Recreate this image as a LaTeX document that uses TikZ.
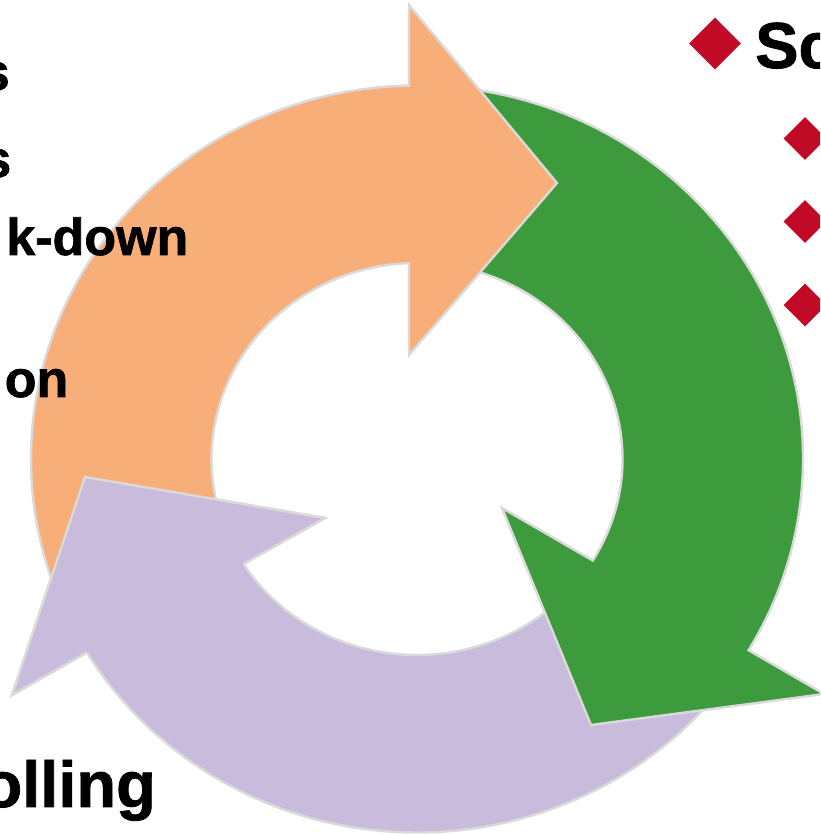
\documentclass[tikz,border=0pt]{standalone}
\usepackage{fontspec}
\setmainfont{Liberation Sans}[BoldFeatures={FakeBold=1.2}]
\usetikzlibrary{calc,shapes.geometric}

\definecolor{cycleorange}{HTML}{F8AE78}
\definecolor{cyclegreen}{HTML}{3D9B3D}
\definecolor{cyclepurple}{HTML}{C9BBDB}
\definecolor{ringline}{HTML}{DADADA}
\definecolor{bulletred}{HTML}{C00A26}

\begin{document}
\begin{tikzpicture}[x=1pt,y=1pt,
  ringarrow/.style={draw=ringline, line width=2.4pt, line join=miter},
  ringedge/.style={draw=ringline, line width=2.4pt, line join=miter},
  sidetext/.style={font=\fontsize{52}{60}\selectfont\bfseries, inner sep=0pt, anchor=base east},
  bigtext/.style={font=\fontsize{65}{72}\selectfont\bfseries, inner sep=0pt},
  bulletmain/.style={shape=diamond, fill=bulletred, draw=none, inner sep=0pt, minimum size=52pt},
  bulletsub/.style={shape=diamond, fill=bulletred, draw=none, inner sep=0pt, minimum size=43pt}]

\useasboundingbox (0,0) rectangle (820,835);
\clip (0,0) rectangle (820,835);
\fill[white] (0,0) rectangle (820,835);

% centre of the ring
\coordinate (c) at (417,376);

% arrow heads: outer corner, tip, inner corner
\coordinate (po) at (12,140);
\coordinate (pt) at (85,358);
\coordinate (pi) at (325,317);
\coordinate (go) at (824.2,141);
\coordinate (gt) at (591,110);
\coordinate (gi) at (502,327);
\coordinate (oo) at (409,830);
\coordinate (ot) at (557,652);
\coordinate (oi) at (409,480);

% purple arrow (bottom)
\filldraw[ringarrow, fill=cyclepurple]
  ($(c)+(325:386 and 373.5)$)
  arc[start angle=325, end angle=211.2, x radius=386, y radius=373.5]
  -- (po) -- (pt) -- (pi)
  -- ($(c)+(212.4:205.5 and 196)$)
  arc[start angle=212.4, end angle=325, x radius=205.5, y radius=196]
  -- cycle;

% green arrow (right)
\filldraw[ringarrow, fill=cyclegreen]
  ($(c)+(85:386 and 373.5)$)
  arc[start angle=85, end angle=-30.8, x radius=386, y radius=373.5]
  -- (go) -- (gt) -- (gi)
  -- ($(c)+(-31.2:205.5 and 196)$)
  arc[start angle=-31.2, end angle=85, x radius=205.5, y radius=196]
  -- cycle;

% orange arrow (top left)
\filldraw[ringarrow, fill=cycleorange]
  ($(c)+(206:386 and 373.5)$)
  arc[start angle=206, end angle=91.19, x radius=386, y radius=373.5]
  -- (oo) -- (ot) -- (oi)
  -- ($(c)+(92.23:205.5 and 196)$)
  arc[start angle=92.23, end angle=206, x radius=205.5, y radius=196]
  -- cycle;

% purple head lies over the orange tail
\fill[cyclepurple] (po) -- (pt) -- (pi) -- cycle;
\draw[ringedge] ($(c)+(211.2:386 and 373.5)$) -- (po) -- (pt) -- (pi)
  -- ($(c)+(212.4:205.5 and 196)$);

% text on the left
\node[sidetext] (t1) at (10,745) {s};
\node[sidetext] (t2) at (11.5,658) {s};
\node[sidetext] (t3) at (188.5,580) {k-down};
\node[sidetext] (t4) at (68.5,438) {on};
\node[bigtext, anchor=base east] (t5) at (156,28) {olling};

% bullet list on the right
\node[bulletmain] (b0) at (715,791.5) {};
\node[bigtext, anchor=base west] (t6) at (755,767) {Sc};
\node[bulletsub] (b1) at (805,696.5) {};
\node[bulletsub] (b2) at (805,613.5) {};
\node[bulletsub] (b3) at (805,530) {};
\end{tikzpicture}
\end{document}
